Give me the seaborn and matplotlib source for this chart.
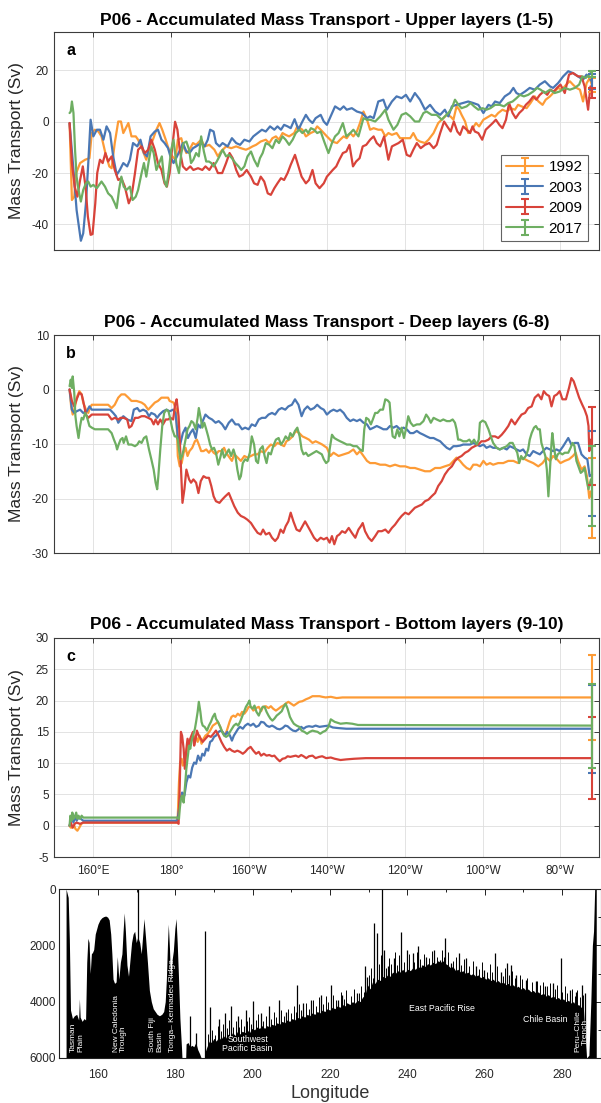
import numpy as np
import pandas as pd
import matplotlib
matplotlib.use("Agg")
import matplotlib.pyplot as plt
import seaborn as sns

sns.set_theme(style="white")
plt.rcParams["font.family"] = ["Liberation Sans", "DejaVu Sans"]

YEARS = ["1992", "2003", "2009", "2017"]
COLORS = {"1992": "#fd9b36", "2003": "#4a77b4", "2009": "#d8433a", "2017": "#6eae62"}
END_LON = 288.1

# ---------------- upper layers (1-5): (longitude, accumulated transport Sv)
UPPER_1992 = [(153.9,-0.5),(154.5,-30.5),(155.1,-29.2),(155.6,-20),(156.6,-16.1),(157.9,-14.8),(159.0,-14.2),(159.6,-4.4),(160.4,-3.1),(161.3,-3.8),
              (162.1,-5.7),(163.0,-11.6),(164.1,-17.4),(164.7,-18.1),(165.5,-8.3),(166.4,0.1),(167.1,0.1),(167.7,-4.4),(169.0,-0.5),(169.8,-5.7),
              (170.9,-5.7),(171.5,-7),(172.6,-10.9),(173.6,-14.8),(174.5,-9.6),(175.3,-7),(176.2,-3.1),(177.0,-0.5),(177.7,-3.1),(178.6,-7),
              (179.4,-10.9),(180.3,-13.5),(181.1,-14.8),(181.7,-7),(182.6,-6.4),(183.0,-9),(183.9,-12.2),(184.7,-10.9),(185.6,-8.3),(186.4,-9),
              (187.7,-7),(188.6,-9.6),(189.8,-9),(191.1,-10.9),(192.0,-13.5),(192.8,-11.6),(194.1,-9.6),(195.4,-10.3),(196.7,-9.6),(197.9,-10.3),
              (199.2,-10.9),(200.1,-10.3),(200.9,-9.6),(201.8,-9),(203.0,-7.7),(204.3,-7),(205.2,-8.3),(206.0,-6.4),(206.9,-5.7),(207.7,-7),
              (208.6,-4.4),(209.4,-5.1),(210.3,-5.7),(211.6,-4.4),(212.4,-1.8),(213.7,-3.1),(214.6,-5.7),(215.8,-4.4),(216.7,-3.8),(217.5,-1.8),
              (218.4,-3.1),(219.2,-4.4),(220.0,-5.7),(221.3,-7.7),(222.6,-8.3),(223.4,-7),(224.3,-5.7),(225.1,-6.4),(226.0,-4.4),(226.8,-5.7),
              (227.7,-3.8),(228.5,-0.5),(229.4,4),(230.3,0.8),(231.1,-3.1),(232.0,-2.5),(233.2,-3.1),(234.1,-3.1),(235.0,-5.7),(235.8,-4.4),
              (236.7,-5.1),(237.9,-4.4),(238.8,-6.4),(240.1,-6.4),(241.4,-6.4),(242.2,-4.4),(243.1,-7),(243.9,-7.7),(245.2,-8.3),(246.1,-7),
              (247.4,-4.4),(248.6,-0.5),(249.9,1.4),(250.8,2.7),(251.8,2),(252.5,0.8),(253.3,6),(254.0,4.7),(254.6,2.7),(255.5,0.1),
              (256.3,-4.4),(257.2,-3.1),(258.3,-0.5),(259.1,-1.8),(260.2,0.8),(261.5,2),(262.3,2.7),(263.2,2),(264.0,3.4),(265.1,4.7),
              (266.2,4),(267.2,5.3),(268.3,4.7),(269.1,6.6),(270.0,6),(271.3,5.3),(272.3,7.3),(273.4,9.9),(274.3,8),(275.4,6.6),
              (276.2,8.6),(277.3,9.9),(278.5,11.8),(279.4,13.2),(280.3,12.5),(281.5,14.5),(282.4,15.8),(283.2,14.5),(284.1,13.2),(285.0,12.5),
              (285.8,7.9),(286.7,15),(287.5,17),(288.1,14.2)]
UPPER_2003 = [(153.9,-0.5),(154.9,-18.8),(155.7,-34.4),(156.8,-46.4),(157.4,-43.5),(158.1,-31.8),(158.7,-16.1),(159.3,0.8),(160.0,-5.7),(160.9,-3.1),
              (161.7,-3.1),(162.6,-7),(163.4,-1.8),(164.3,-4.4),(165.1,-13.5),(166.0,-20.7),(166.8,-18.8),(167.7,-16.1),(168.7,-17.4),(169.4,-14.8),
              (170.2,-8.3),(171.3,-9.6),(172.1,-7),(173.0,-12.2),(173.8,-13.5),(174.7,-5.7),(175.8,-3.8),(176.6,-3.1),(177.5,-7),(178.3,-8.3),
              (179.2,-10.3),(179.8,-13.5),(180.6,-16.1),(181.5,-13.5),(182.3,-10.9),(183.0,-8.3),(183.9,-11.6),(184.7,-12.2),(185.6,-10.3),(186.4,-9.6),
              (187.7,-8.3),(188.6,-9.6),(189.4,-7),(190.0,-3.1),(190.9,-3.8),(191.5,-8.3),(192.4,-9.6),(193.2,-8.3),(194.5,-9.6),(195.6,-6.4),
              (196.7,-8.3),(197.7,-9),(198.8,-7),(200.1,-7.7),(201.1,-5.7),(202.2,-4.4),(203.3,-3.1),(204.3,-3.8),(205.4,-1.8),(206.5,-3.1),
              (207.3,-1.8),(208.2,-3.1),(209.0,-1.2),(209.9,-1.8),(210.7,-2.5),(211.7,1),(212.7,-3.1),(213.5,-0.5),(214.6,2.7),(215.4,0.8),
              (216.3,-0.5),(217.1,1.4),(218.4,2.7),(219.2,0.1),(220.0,-1.2),(222.1,6),(223.4,4.7),(224.3,6),(225.1,4.7),(226.4,5.3),
              (227.7,4),(229.0,3.4),(230.3,1.4),(231.1,2.1),(232.0,1.4),(233.2,7.9),(234.5,8.6),(235.4,4.7),(236.7,7.9),(237.9,9.9),
              (239.2,9.2),(240.3,10.5),(241.4,7.9),(242.6,11.2),(243.9,8.6),(245.2,4.7),(246.5,6.6),(247.8,4),(249.1,2.7),(250.3,4.7),
              (251.2,2.1),(252.1,6),(253.3,6.6),(256.3,7.9),(257.6,7.3),(258.9,6.6),(260.2,3.4),(261.5,6.6),(262.3,6),(263.2,7.9),
              (264.4,7.3),(265.7,9.9),(267.0,11.2),(267.9,13.2),(268.7,11.2),(269.6,10.5),(270.9,11.8),(272.1,13.2),(273.4,12.5),(274.7,14.5),
              (276.0,15.8),(277.3,13.8),(278.1,13.2),(279.4,15.1),(280.7,17.7),(282.0,19.7),(283.2,19),(284.5,17.7),(285.8,16.4),(286.7,18.4),
              (287.5,17.1),(288.1,15.6)]
UPPER_2009 = [(153.9,-0.5),(154.5,-16.1),(155.2,-25.3),(155.9,-29.2),(156.6,-22.7),(157.3,-17.4),(158.0,-25.3),(158.6,-37),(159.3,-44.1),(159.8,-43.8),
              (160.5,-31.8),(161.0,-20),(161.7,-14.8),(162.4,-16.1),(163.1,-12.2),(163.8,-15.5),(164.7,-13.5),(165.5,-18.8),(166.4,-22.7),(167.2,-22),
              (168.1,-25.3),(169.1,-31.8),(169.8,-29.2),(170.7,-20),(171.5,-10.9),(172.4,-9.6),(173.2,-12.2),(174.1,-10.9),(174.9,-7),(175.8,-10.9),
              (176.6,-16.1),(177.5,-18.8),(178.3,-24),(178.9,-25.3),(179.6,-20),(180.3,-9.6),(181.0,0),(181.6,-3.1),(182.2,-10.9),(183.0,-17.4),
              (183.9,-18.8),(184.9,-17.4),(185.7,-18.8),(186.9,-18.1),(188.0,-18.8),(188.8,-17.4),(189.8,-18.8),(190.9,-16.1),(192.0,-20),(193.1,-20),
              (194.1,-16.1),(195.0,-12.2),(195.8,-14.2),(196.7,-18.8),(197.5,-21.4),(198.4,-20.7),(199.4,-18.8),(200.5,-21.4),(201.3,-24),(202.2,-24.6),
              (203.0,-21.4),(203.9,-23.3),(204.8,-27.9),(205.6,-28.5),(206.5,-25.9),(207.3,-24),(208.2,-22),(209.0,-22.7),(209.9,-20),(210.7,-16.8),
              (211.8,-12.9),(212.7,-17.4),(213.5,-21.4),(214.6,-24),(215.4,-22.7),(216.3,-18.8),(217.1,-24),(218.1,-25.9),(219.2,-24),(220.0,-21.4),
              (221.5,-18.8),(222.4,-17.4),(223.2,-14.8),(224.1,-12.2),(225.0,-11.6),(225.8,-9),(226.7,-17.4),(227.5,-15.5),(228.4,-14.2),(229.2,-9.6),
              (230.1,-9),(231.1,-7),(232.0,-5.7),(232.8,-8.3),(233.7,-9.6),(234.7,-5.7),(235.8,-14.8),(236.7,-9.6),(237.5,-9),(238.4,-8.3),
              (239.5,-7),(240.5,-12.9),(241.4,-13.5),(242.2,-10.9),(243.1,-8.3),(244.1,-10.3),(245.2,-9),(246.3,-8.3),(247.4,-10.3),(248.2,-9),
              (249.1,-4.4),(250.1,0.1),(250.9,-1.8),(251.8,-3.8),(252.6,0.1),(253.5,-3.8),(254.2,-5.1),(255.0,-1.8),(255.9,-3.1),(256.8,-4.4),
              (257.4,-1.8),(258.0,-3.8),(258.9,-4.4),(259.9,-7),(260.8,-3.1),(261.7,-1.8),(262.6,-0.5),(263.4,0.8),(264.3,-1.2),(265.1,-2.5),
              (266.0,0.8),(266.8,7.3),(267.7,3.4),(268.5,1.4),(269.4,3.4),(270.3,4.7),(271.1,6.6),(272.0,7.9),(273.0,9.9),(273.8,8.6),
              (274.7,10.5),(275.7,11.8),(276.6,10.5),(277.4,12.5),(278.3,11.8),(279.1,13.2),(280.0,14.5),(281.1,11.2),(282.2,18.4),(283.2,19),
              (284.5,17.7),(285.4,17.7),(286.2,13.8),(287.1,4.7),(287.7,13.8),(288.1,11.2)]
UPPER_2017 = [(153.9,3.4),(154.2,4),(154.5,7.9),(154.9,3.4),(155.3,-10.9),(155.7,-21.4),(156.2,-26.6),(156.8,-31.1),(157.4,-26.6),(158.1,-24),
              (158.7,-23.3),(159.3,-25.3),(160.0,-24.6),(160.9,-25.9),(161.5,-24.6),(162.1,-23.3),(163.0,-25.3),(163.8,-27.9),(164.7,-29.2),(165.5,-31.8),
              (166.0,-33.7),(166.6,-26.6),(167.2,-21.4),(167.8,-25.3),(168.5,-26.6),(169.4,-25.3),(170.1,-30.5),(170.9,-29.2),(171.5,-26.6),(172.4,-20),
              (173.0,-16.1),(173.6,-21.4),(174.3,-14.8),(174.9,-9.6),(175.5,-12.2),(176.2,-18.8),(176.9,-16.1),(177.6,-13.5),(178.2,-22.7),(178.8,-25.3),
              (179.4,-18.8),(180.0,-10.9),(180.6,-7),(181.3,-16.1),(182.0,-20),(182.6,-12.2),(183.2,-8.3),(183.9,-7.7),(184.6,-10.9),(185.1,-16.1),
              (185.7,-14.8),(186.4,-12.2),(187.1,-13.5),(187.7,-5.7),(188.4,-11.6),(189.0,-15.5),(189.7,-15.5),(190.3,-16.1),(190.9,-17.4),(191.7,-15.5),
              (192.4,-13.5),(193.2,-10.9),(194.1,-13.5),(194.8,-12.9),(195.6,-14.2),(196.5,-16.1),(197.3,-17.4),(198.0,-18.8),(198.8,-17.4),(199.6,-13.5),
              (200.5,-11.6),(201.3,-14.8),(202.2,-17.4),(202.8,-14.2),(203.5,-12.2),(204.3,-8.3),(205.2,-9),(206.0,-10.3),(206.9,-7),(207.7,-8.3),
              (208.6,-5.7),(209.4,-7),(210.3,-9),(211.2,-7),(212.0,-4.4),(212.9,-3.1),(213.7,-4.4),(214.6,-3.1),(215.2,-4.4),(215.9,-2.5),
              (216.7,-3.1),(217.5,-4.4),(218.4,-3.8),(219.3,-7.7),(220.4,-12.2),(221.3,-8.3),(222.1,-5.7),(223.0,-4.4),(224.1,-0.5),(225.0,-5.7),
              (226.0,-4.4),(226.8,-3.1),(228.1,-5.7),(229.4,1.4),(230.3,0.8),(231.1,0.8),(232.4,0.1),(233.7,2.1),(235.0,4.7),(235.8,0.8),
              (237.1,-3.1),(238.1,-1.2),(239.2,2.7),(240.3,3.4),(241.4,2.1),(242.6,0.1),(243.7,0.1),(244.8,3.4),(245.6,4),(246.9,2.7),
              (248.2,2.7),(249.5,0.8),(250.3,2.1),(251.2,3.4),(252.1,5.3),(252.9,8.6),(253.8,6.6),(254.6,5.3),(255.9,6),(256.9,7.3),
              (257.8,6),(258.9,4.7),(260.0,5.3),(261.0,4.7),(262.0,5.3),(263.2,6.6),(264.4,6.6),(265.5,6),(266.6,7.3),(267.7,7.9),
              (268.7,9.2),(269.6,10.5),(270.6,9.9),(271.7,10.5),(273.0,11.8),(274.0,13.2),(274.9,12.5),(276.0,11.2),(277.3,12.5),(278.5,11.2),
              (279.8,11.8),(281.1,13.2),(282.4,12.5),(283.7,13.2),(284.8,14.5),(285.6,17.7),(286.5,17.1),(287.4,18.4),(288.1,19.7)]

# ---------------- deep layers (6-8)
DEEP_1992 = [(153.9,0),(154.3,-3.1),(154.7,-4.6),(155.3,-3.1),(155.9,-1.2),(156.4,-0.3),(157.0,-0.9),(157.4,-2.4),(158.1,-3.7),(158.7,-4.3),
             (159.1,-3.4),(159.6,-2.8),(163.8,-2.8),(164.7,-3.4),(165.5,-2.8),(166.4,-1.5),(167.2,-0.9),(168.1,-0.9),(169.0,-1.5),(169.8,-2.1),
             (171.1,-2.1),(172.4,-2.4),(173.2,-2.8),(174.1,-3.7),(174.9,-3.1),(175.8,-2.4),(176.6,-2.1),(177.5,-1.5),(179.2,-1.5),(179.6,-2.1),
             (180.6,-2.4),(181.3,-3.7),(181.7,-12.2),(182.2,-14.1),(182.7,-13.5),(183.2,-11.6),(183.7,-10.7),(184.2,-12.2),(184.7,-11.3),(185.4,-10.7),
             (186.1,-9.5),(186.6,-9.2),(187.1,-10.1),(187.7,-11.3),(188.3,-11.3),(189.0,-11),(189.7,-11.6),(190.3,-11),(190.9,-11.6),(191.5,-11.9),
             (192.2,-11.3),(192.9,-11.3),(193.6,-10.7),(194.1,-11.6),(195.0,-12.5),(195.6,-13.1),(196.2,-11.9),(197.1,-12.5),(197.9,-13.1),(198.8,-12.2),
             (199.6,-12.5),(200.5,-12.2),(201.3,-11.9),(202.2,-11.9),(203.0,-11.3),(203.9,-11.6),(204.8,-10.7),(205.6,-10.1),(206.5,-10.4),(207.3,-9.8),
             (208.2,-10.1),(209.0,-10.4),(209.6,-9.5),(210.3,-9.2),(211.2,-8.6),(212.0,-7.6),(212.9,-8),(213.7,-8.6),(214.6,-8.9),(215.4,-9.2),
             (216.3,-9.8),(217.1,-9.5),(218.0,-9.8),(218.8,-10.1),(220.0,-10.7),(220.9,-12.2),(221.7,-11.6),(223.0,-12.2),(224.3,-11.9),(225.6,-11.6),
             (226.8,-11),(227.7,-11.9),(228.5,-11.3),(229.4,-12.2),(230.3,-13.1),(231.1,-13.5),(232.4,-13.5),(233.7,-13.8),(235.0,-13.8),(236.2,-14.1),
             (237.5,-13.8),(238.8,-14.1),(240.1,-14.1),(241.4,-14.4),(242.6,-14.4),(243.9,-14.7),(245.2,-15),(246.5,-15),(247.8,-14.4),(249.1,-14.4),
             (250.3,-14.1),(251.6,-13.8),(252.5,-13.1),(253.3,-12.5),(254.2,-13.1),(255.0,-13.8),(255.9,-14.4),(256.8,-14.7),(257.6,-13.8),(258.5,-13.8),
             (259.3,-14.1),(260.2,-13.1),(261.0,-13.8),(261.9,-13.5),(262.7,-13.8),(264.0,-13.5),(265.3,-13.5),(266.6,-13.1),(267.9,-13.1),(269.1,-13.5),
             (270.0,-12.5),(270.9,-12.8),(271.7,-13.1),(273.0,-13.5),(274.3,-14.1),(275.4,-13.5),(276.4,-12.5),(277.3,-13.1),(278.1,-12.2),(279.1,-12.8),
             (280.0,-13.5),(281.1,-13.1),(282.2,-12.8),(283.2,-12.2),(283.9,-11.6),(284.5,-13.1),(285.4,-14.7),(286.2,-14.1),(286.8,-15.9),(287.4,-19.9),
             (287.8,-18.7),(288.1,-19.9)]
DEEP_2003 = [(153.9,0),(154.5,-3.7),(155.1,-4.3),(155.7,-4),(156.6,-3.7),(157.4,-4.3),(158.3,-4),(159.0,-3.1),(159.6,-3.7),(164.3,-3.7),
             (165.1,-4.3),(165.8,-4.9),(166.4,-6.1),(167.0,-5.5),(167.7,-4.9),(168.7,-5.5),(169.8,-5.8),(170.4,-3.7),(171.3,-3.4),(171.9,-4),
             (172.8,-3.7),(173.6,-4),(174.3,-4.9),(174.9,-4.3),(175.8,-4.6),(176.4,-5.2),(177.0,-4.6),(177.9,-4),(178.8,-3.7),(179.6,-4),
             (180.5,-3.7),(181.1,-4.3),(181.7,-8.6),(182.3,-10.1),(183.0,-8),(183.7,-7),(184.3,-8.9),(184.9,-8),(185.6,-7.3),(186.3,-8.9),
             (186.9,-6.4),(187.5,-7),(188.1,-5.8),(188.8,-4.6),(189.7,-5.2),(190.5,-5.5),(191.4,-6.1),(192.2,-5.8),(193.1,-6.4),(193.9,-7.3),
             (194.8,-6.1),(195.6,-5.5),(196.5,-6.4),(197.3,-6.4),(198.2,-7.3),(199.0,-7),(199.9,-7.3),(200.7,-6.4),(201.6,-6.7),(202.5,-5.5),
             (203.3,-5.2),(204.2,-5.2),(205.0,-4.6),(205.9,-4.3),(206.7,-4.6),(207.6,-3.7),(208.4,-3.4),(209.3,-3.7),(210.1,-3.1),(211.0,-2.8),
             (211.8,-1.8),(212.7,-2.8),(213.5,-4.9),(214.2,-3.7),(215.0,-3.1),(215.8,-3.7),(216.7,-3.4),(217.5,-2.8),(218.4,-3.4),(219.2,-3.7),
             (220.0,-4.6),(220.9,-4),(221.7,-3.7),(222.6,-4),(223.4,-3.7),(224.3,-4.3),(225.1,-5.2),(226.0,-5.8),(226.8,-5.5),(227.7,-5.8),
             (228.5,-5.5),(229.4,-6.1),(230.3,-6.4),(231.1,-7.3),(232.0,-7),(232.8,-6.7),(233.7,-7),(234.5,-7.3),(235.4,-7.3),(236.2,-6.7),
             (237.1,-7),(237.9,-6.7),(238.8,-7.3),(239.7,-7),(240.5,-7.3),(241.4,-8),(242.2,-8),(243.1,-7.6),(243.9,-8),(244.8,-8.3),
             (245.6,-8.6),(246.5,-8.9),(247.4,-8.9),(248.2,-9.2),(249.1,-9.5),(249.9,-10.1),(250.8,-10.7),(251.6,-11),(252.5,-10.4),(253.3,-10.4),
             (254.2,-10.3),(255.0,-10.1),(255.9,-10.1),(256.8,-10.1),(257.6,-9.8),(258.5,-10.1),(259.3,-10.4),(260.2,-10.1),(261.0,-10.7),(261.9,-10.4),
             (262.7,-10.7),(263.6,-10.7),(264.4,-11),(265.3,-10.7),(266.2,-11),(267.0,-10.4),(267.9,-10.7),(268.7,-11),(269.6,-11.3),(270.4,-11),
             (271.3,-11.9),(272.1,-12.2),(273.0,-11.3),(273.8,-11.6),(274.7,-11.9),(275.5,-11.3),(276.4,-10.7),(277.3,-11),(278.1,-11.3),(279.0,-11),
             (279.8,-11.3),(280.7,-10.4),(282.0,-8.9),(282.8,-10.1),(283.7,-9.8),(284.5,-9.8),(285.4,-11.9),(286.2,-12.5),(286.9,-12.8),(287.5,-15.9),
             (288.1,-15.6)]
DEEP_2009 = [(153.9,0),(154.5,-2.1),(155.1,-3.1),(155.7,-1.8),(156.4,-0.6),(157.0,-0.9),(157.4,-2.1),(158.1,-4.6),(158.7,-5.2),(159.6,-4.6),
             (163.8,-4.6),(164.7,-5.5),(165.5,-5.2),(166.4,-5.5),(167.0,-5.2),(167.8,-5.2),(168.7,-5.5),(169.2,-7),(169.8,-6.7),(170.7,-5.2),
             (171.5,-5.2),(172.4,-4.9),(173.2,-4.9),(174.1,-5.2),(174.9,-5.5),(175.5,-6.4),(176.0,-5.5),(176.6,-6.4),(177.2,-5.5),(177.9,-6.4),
             (178.6,-5.5),(179.2,-5.5),(179.8,-5.2),(180.5,-5.5),(181.0,-2.8),(181.4,-1.8),(181.9,-4.9),(182.2,-9.2),(182.6,-15.9),(182.9,-20.8),
             (183.4,-18.3),(183.9,-14.7),(184.6,-16.5),(185.1,-17.1),(185.7,-16.5),(186.4,-17.1),(187.0,-19),(187.6,-16.8),(188.3,-15.9),(189.0,-16.2),
             (189.7,-16.2),(190.3,-17.7),(190.9,-19.6),(191.5,-20.5),(192.4,-20.8),(193.1,-20.2),(193.9,-19.6),(194.8,-19),(195.5,-20.2),(196.2,-21.4),
             (197.1,-22.6),(197.9,-23.2),(198.8,-23.5),(199.6,-23.9),(200.5,-24.5),(201.3,-25.4),(202.2,-26.3),(203.0,-26.6),(203.6,-25.7),(204.3,-26.6),
             (205.2,-26.3),(205.9,-27.2),(206.7,-27.8),(207.4,-27.2),(208.1,-25.7),(208.8,-26.3),(209.4,-25.1),(210.1,-24.2),(210.7,-22.6),(211.4,-24.2),
             (212.2,-25.7),(213.0,-26),(213.7,-25.1),(214.4,-24.2),(215.1,-25.1),(215.8,-26),(216.7,-27.2),(217.5,-27.8),(218.4,-27.2),(219.2,-27.5),
             (220.0,-27.2),(220.7,-28.1),(221.3,-26.9),(221.9,-28.4),(222.6,-26.9),(223.2,-26.6),(223.9,-26),(224.7,-26.3),(225.6,-25.4),(226.4,-26.3),
             (227.3,-27.2),(228.1,-25.7),(228.7,-25.1),(229.2,-24.5),(229.8,-26),(230.7,-27.2),(231.5,-27.8),(232.4,-26.9),(233.2,-26),(234.1,-26),
             (235.0,-25.7),(235.8,-26.3),(236.7,-25.4),(237.5,-24.8),(238.4,-23.9),(239.2,-23.2),(240.1,-22.6),(241.0,-22.9),(241.8,-22.3),(242.6,-21.7),
             (243.5,-21.4),(244.4,-21.1),(245.2,-20.5),(246.1,-20.2),(246.9,-19.6),(247.8,-19),(248.6,-17.7),(249.5,-16.8),(250.3,-15.6),(251.2,-14.7),
             (252.1,-14.1),(252.9,-13.1),(253.8,-12.5),(254.6,-12.2),(255.5,-11.6),(256.3,-11.3),(257.2,-10.7),(258.0,-10.4),(258.9,-10.1),(259.7,-9.5),
             (260.6,-9.5),(261.5,-9.2),(262.3,-8.6),(263.2,-8.6),(264.0,-8.9),(264.9,-8.3),(265.7,-7.6),(266.6,-6.7),(267.4,-5.5),(268.3,-6.4),
             (269.1,-5.5),(270.0,-4.6),(270.9,-4.3),(271.7,-3.4),(272.6,-3.1),(273.4,-1.5),(274.3,-0.9),(275.1,-1.8),(275.7,-0.3),(276.4,-0.9),
             (277.1,-1.2),(277.7,-3.1),(278.4,-1.2),(279.1,-0.9),(279.8,-0.3),(280.5,-1.8),(281.4,-1.8),(282.2,0.3),(282.8,2.1),(283.4,1.5),
             (284.1,0),(284.8,-1.5),(285.6,-2.8),(286.2,-3.7),(286.8,-4.9),(287.2,-6.7),(287.4,-11.3),(287.8,-9.2),(288.1,-10.4)]
DEEP_2017 = [(153.9,0.6),(154.2,1.8),(154.5,0.3),(154.7,2.4),(155.1,-0.6),(155.4,-4.9),(155.7,-6.7),(156.2,-8.9),(156.6,-6.7),(157.0,-5.2),
             (157.4,-5.5),(157.9,-4.3),(158.3,-4.9),(159.0,-6.7),(159.6,-7),(160.4,-7.3),(163.8,-7.3),(164.7,-8),(165.3,-9.2),(165.8,-10.1),
             (166.1,-11),(166.5,-10.1),(167.0,-9.2),(167.5,-8.9),(167.8,-9.8),(168.4,-8.6),(169.0,-10.1),(169.8,-10.1),(170.7,-10.4),(171.3,-10.1),
             (171.8,-9.5),(172.4,-9.8),(173.0,-8.9),(173.6,-8.6),(174.3,-11),(174.9,-12.8),(175.5,-14.7),(176.0,-17.1),(176.4,-18.3),(176.7,-15.9),
             (177.2,-11),(177.7,-6.7),(178.2,-4.3),(178.8,-3.7),(179.3,-4),(179.8,-5.5),(180.3,-7.3),(180.9,-8.6),(181.3,-8.6),(181.7,-9.2),
             (182.0,-11),(182.4,-12.8),(182.8,-12.2),(183.2,-11),(183.7,-9.2),(184.2,-7.3),(184.7,-6.7),(185.2,-5.8),(185.7,-6.1),(186.3,-7.3),
             (186.8,-5.2),(187.1,-3.4),(187.5,-4.9),(188.0,-7),(188.5,-6.1),(189.0,-7.3),(189.5,-8.6),(190.0,-10.1),(190.5,-11),(191.0,-10.7),
             (191.5,-11.6),(192.1,-13.8),(192.6,-12.5),(193.1,-11),(193.6,-12.5),(194.1,-11.9),(194.8,-11),(195.4,-12.2),(196.0,-11),(196.5,-12.2),
             (197.0,-14.7),(197.5,-16.5),(197.9,-15.9),(198.4,-13.5),(199.0,-12.8),(199.6,-13.1),(200.2,-11.6),(200.7,-8.6),(201.3,-10.1),(201.8,-13.1),
             (202.3,-13.5),(202.8,-11),(203.5,-10.4),(204.0,-12.2),(204.5,-13.5),(205.0,-11.6),(205.6,-11.9),(206.2,-10.4),(206.9,-9.2),(207.6,-8.9),
             (208.2,-10.1),(208.8,-9.5),(209.4,-8.6),(210.1,-9.2),(210.6,-8),(211.2,-8.6),(211.8,-7.6),(212.4,-7),(213.0,-8.6),(213.5,-11),
             (214.0,-11.9),(214.6,-11.6),(215.2,-12.2),(215.9,-11.9),(216.6,-11.6),(217.3,-11.3),(218.0,-11.6),(218.7,-11.9),(219.2,-12.8),(219.8,-13.5),
             (220.4,-13.1),(220.7,-11),(221.3,-8.3),(221.9,-8.9),(222.6,-9.2),(223.4,-9.5),(224.3,-9.8),(225.1,-10.1),(226.0,-10.1),(226.8,-10.4),
             (227.7,-10.4),(228.5,-11),(229.2,-11.3),(229.6,-7.3),(230.1,-5.2),(230.7,-5.5),(231.3,-6.4),(231.8,-5.5),(232.4,-4.3),(233.0,-4.3),
             (233.7,-3.7),(234.4,-3.7),(235.0,-1.8),(235.6,-2),(236.1,-2.4),(236.6,-6.7),(236.9,-8.6),(237.5,-8.9),(238.1,-7.3),(238.6,-8.6),
             (239.2,-7),(239.8,-8.9),(240.3,-7.3),(240.9,-4.9),(241.5,-6.1),(242.2,-6.7),(243.1,-6.4),(243.9,-6.4),(244.8,-5.8),(245.5,-4.6),
             (246.1,-5.2),(246.7,-6.1),(247.4,-5.2),(248.2,-5.5),(249.1,-5.8),(249.9,-5.5),(250.8,-5.8),(251.6,-5.8),(252.3,-5.5),(252.9,-6.1),
             (253.3,-7.3),(253.7,-9.2),(254.2,-9.2),(255.0,-9.5),(255.9,-9.5),(256.6,-9.2),(257.2,-9.8),(257.8,-9.2),(258.5,-10.1),(259.0,-9.2),
             (259.3,-6.1),(260.0,-5.7),(260.7,-6),(261.5,-7.3),(262.1,-8.6),(262.7,-9.8),(263.6,-10.7),(264.4,-11),(265.3,-10.7),(266.2,-10.4),
             (267.0,-9.8),(267.7,-9.8),(268.3,-10.7),(268.9,-11.6),(269.4,-13.5),(269.9,-12.2),(270.4,-12.8),(271.1,-12.2),(271.7,-11),(272.1,-9.2),
             (272.6,-8),(273.2,-7),(273.7,-6.7),(274.2,-7.3),(274.7,-7.3),(275.1,-9.8),(275.6,-11),(276.1,-12.2),(276.5,-14.7),(276.9,-19.6),
             (277.3,-14.7),(277.7,-9.8),(277.9,-8),(278.3,-10.4),(278.8,-12.8),(279.3,-11.9),(279.8,-11.6),(280.5,-11.9),(281.1,-11.6),(282.0,-11.6),
             (282.6,-10.7),(283.1,-9.8),(283.6,-10.4),(284.1,-13.1),(284.6,-14.1),(285.2,-15.3),(285.7,-15),(286.2,-14.4),(286.7,-16.5),(287.2,-18.3),
             (287.8,-16.5),(288.1,-17.7)]

# ---------------- bottom layers (9-10)
BOTTOM_1992 = [(153.9,0),(154.2,-0.3),(154.7,-0.3),(155.1,0),(155.4,-0.5),(155.9,-0.8),(156.4,-0.3),(156.9,0.3),(157.4,0.5),(181.3,0.5),
               (181.7,1.6),(182.0,6.9),(182.3,10.1),(182.7,10.7),(183.0,9.6),(183.4,10.1),(183.7,10.7),(184.2,12.8),(184.7,13.4),(185.2,14.2),
               (185.7,13.9),(186.3,14.4),(186.8,13.4),(187.3,14.4),(187.8,13.1),(188.3,13.9),(188.8,14.4),(189.4,14.7),(190.0,15.2),(190.7,16),
               (191.4,16.3),(192.0,16.6),(192.6,15.8),(193.1,15),(193.7,14.4),(194.3,15.2),(195.0,16.6),(195.5,17.4),(196.0,17.6),(196.5,17.4),
               (197.1,17.9),(197.7,17.6),(198.2,18.2),(198.8,17.9),(199.4,18.4),(199.9,19),(200.5,19),(201.1,18.4),(201.8,18.8),(202.5,19),
               (203.1,18.3),(203.6,19),(204.3,19.1),(205.0,18.8),(205.6,19.1),(206.2,18.7),(206.9,18.4),(207.6,18.7),(208.2,19),(208.8,19.2),
               (209.4,19.5),(210.1,19.8),(210.8,19.5),(211.5,19.2),(212.2,19.5),(212.9,19.8),(213.7,19.9),(214.6,20.2),(215.4,20.4),(216.3,20.7),
               (217.1,20.7),(218.1,20.7),(218.8,20.6),(219.7,20.5),(221.0,20.6),(222.5,20.4),(224.0,20.5),(226.0,20.5),(288.1,20.5)]
BOTTOM_2003 = [(153.9,0),(154.2,0.8),(154.5,1.3),(154.9,0.5),(155.3,1.6),(155.7,0.8),(156.2,1.3),(156.8,1.1),(157.4,0.8),(181.6,0.8),
               (182.0,2.7),(182.4,4.3),(182.8,5.3),(183.4,4.8),(183.9,6.9),(184.4,8),(184.9,7.7),(185.4,9.3),(185.9,10.1),(186.4,9.9),
               (186.9,11.2),(187.5,10.4),(188.0,11.5),(188.5,11.2),(189.0,12.3),(189.5,12),(190.0,13.4),(190.5,13.6),(191.0,14.2),(191.5,14.4),
               (192.2,15),(192.7,15.2),(193.2,15),(193.8,14.4),(194.4,15),(195.1,14.4),(195.6,13.6),(196.1,14.4),(196.7,15),(197.2,15.5),
               (197.7,15.8),(198.4,15.5),(199.0,16),(199.7,16.3),(200.4,16),(201.1,16.3),(201.8,15.8),(202.5,16),(203.1,16.6),(203.8,16.5),
               (204.5,16),(205.2,15.8),(205.9,16),(206.5,15.8),(207.2,15.5),(207.9,15.4),(208.6,15.6),(209.3,16),(209.9,15.9),(210.6,15.5),
               (211.3,15.2),(212.0,15.1),(212.7,15.4),(213.4,15.8),(214.0,15.5),(214.7,15.8),(215.4,15.9),(216.3,15.8),(217.1,16),(218.1,15.8),
               (219.2,15.9),(220.4,16),(221.5,15.7),(223.0,15.6),(225.0,15.5),(288.1,15.5)]
BOTTOM_2009 = [(153.9,0),(154.2,0.5),(154.7,-0.3),(155.2,0.3),(155.7,0.5),(156.6,0.3),(157.4,0.5),(181.6,0.5),(181.9,0.3),(182.2,6.4),
               (182.5,15),(182.8,14.4),(183.2,12.3),(183.5,9.1),(183.9,12.3),(184.2,13.9),(184.6,12.8),(184.9,13.9),(185.2,14.4),(185.6,15),
               (185.9,12.8),(186.3,13.9),(186.6,15.2),(187.1,14.4),(187.6,13.9),(188.1,13.4),(188.8,13.9),(189.5,14.4),(190.2,14.2),(190.9,14.7),
               (191.5,15.2),(192.2,14.4),(192.9,13.4),(193.6,12.6),(194.3,12),(195.0,12.3),(195.6,12),(196.3,11.8),(197.0,12),(197.7,11.8),
               (198.4,11.5),(199.0,11.8),(199.7,12.3),(200.4,12.6),(201.1,12),(201.8,11.5),(202.5,11.8),(203.1,11.2),(203.8,11.5),(204.5,11.2),
               (205.2,11.3),(205.9,11.1),(206.5,11.2),(207.2,10.7),(207.9,10.3),(208.6,10.7),(209.3,10.8),(209.9,11.1),(210.6,11),(211.3,11.1),
               (212.0,11.2),(212.7,11),(213.4,11.3),(214.0,11.1),(214.7,10.8),(215.4,11.1),(216.3,11.2),(217.1,10.8),(218.0,11),(218.8,11.1),
               (219.8,10.8),(221.0,10.9),(222.0,10.7),(223.5,10.5),(225.0,10.6),(227.0,10.7),(230.0,10.8),(288.1,10.8)]
BOTTOM_2017 = [(153.9,0),(154.1,1.6),(154.4,0.8),(154.6,2.1),(154.9,1.1),(155.2,1.3),(155.6,2.1),(155.9,1.1),(156.2,1.6),(156.6,1.1),
               (157.0,1.6),(157.4,1.3),(181.6,1.3),(182.0,1.1),(182.2,2.7),(182.5,4.3),(182.8,4.8),(183.2,3.7),(183.5,5.9),(183.9,9.1),
               (184.2,10.7),(184.6,12.8),(184.9,12.3),(185.2,13.4),(185.6,14.4),(186.1,15.5),(186.4,16.6),(186.8,18.2),(187.1,19.8),(187.5,18.2),
               (187.8,16.6),(188.1,16),(188.6,15.8),(189.2,15.2),(189.7,16),(190.2,16.6),(190.7,17.4),(191.2,17.9),(191.5,17.1),(192.0,16.6),
               (192.6,15.8),(193.1,15),(193.6,14.4),(194.1,14.2),(194.6,14.4),(195.1,15),(195.6,15.5),(196.1,16),(196.7,16.3),(197.2,16),
               (197.7,16.6),(198.2,17.4),(198.7,18.2),(199.2,19),(199.7,19.5),(200.1,20),(200.4,19),(200.9,18.7),(201.4,19.2),(201.9,18.2),
               (202.5,17.6),(203.0,18.4),(203.5,19),(204.0,19),(204.5,18.2),(205.0,17.6),(205.5,17.1),(206.0,16.8),(206.5,17.1),(207.1,17.6),
               (207.7,17.9),(208.4,18.3),(208.9,19),(209.4,19.5),(209.9,18.7),(210.5,17.4),(211.0,16.8),(211.5,16.3),(212.2,16),(212.9,15.8),
               (213.5,15.2),(214.2,15),(214.9,14.7),(215.6,15),(216.3,15.2),(216.9,15.1),(217.6,15),(218.3,14.7),(219.0,15),(219.7,15.2),
               (220.4,15.8),(221.0,17),(222.0,16.6),(223.5,16.3),(225.0,16.4),(226.5,16.3),(228.0,16.1),(288.1,16)]

# error estimates at the eastern end: (centre, half-width)
ERR_UPPER = {"1992": (14.2, 2.7), "2003": (15.6, 3.0), "2009": (11.2, 2.0), "2017": (18.6, 1.2)}
ERR_DEEP = {"1992": (-19.9, 7.4), "2003": (-15.5, 7.8), "2009": (-10.4, 7.2), "2017": (-17.7, 7.4)}
ERR_BOTTOM = {"1992": (20.5, 6.75), "2003": (15.5, 7.0), "2009": (10.8, 6.5), "2017": (16.0, 6.7)}

# ---------------- bathymetry along the section (longitude, depth m)
BATHY = [(151.75,0),(152.3,300),(152.6,1800),(152.9,4300),(153.4,4600),(153.9,4500),(154.5,4450),(155.0,4650),(155.2,3900),(155.4,4550),
         (155.9,4700),(156.4,4600),(156.8,4650),(157.1,2600),(157.4,1750),(157.7,1900),(158.0,3000),(158.3,2300),(158.6,2250),(158.9,2150),
         (159.3,1600),(159.7,1400),(160.0,1250),(160.5,1100),(161.0,1020),(161.5,980),(162.0,960),(162.5,1000),(162.9,1100),(163.3,1600),
         (163.6,2300),(163.9,3200),(164.3,3350),(164.7,3300),(165.0,2400),(165.4,3200),(165.8,2600),(166.2,2300),(166.5,1500),(166.8,850),
         (167.1,1500),(167.5,2700),(167.9,3100),(168.3,2500),(168.7,1900),(169.1,1600),(169.5,1500),(169.9,1900),(170.3,1700),(170.8,1900),
         (171.2,2300),(171.6,1600),(171.9,1050),(172.3,1700),(172.8,2600),(173.3,3600),(173.8,4000),(174.3,4250),(174.8,4350),(175.3,4450),
         (175.9,4500),(176.5,4450),(177.0,4350),(177.4,4000),(177.7,3200),(178.0,1900),(178.2,1250),(178.5,2100),(178.8,3300),(179.1,2600),
         (179.5,2200),(179.9,1400),(180.2,1050),(180.5,1900),(180.8,3000),(181.2,4600),(181.6,5600),(181.9,6500),(182.6,6500),(182.8,5500),
         (183.3,5450),(183.8,5600),(184.3,5550),(184.8,5600),(185.3,5450),(185.8,5700),(186.3,5850),(186.7,6000),(187.0,6500),(187.5,6500),
         (187.7,5800),(188.2,5600),(188.8,5400),(189.4,5450),(190.0,5300),(190.6,5400),(191.2,5250),(191.8,5350),(192.4,5200),(193.0,5300),
         (193.6,5150),(194.2,5250),(194.8,5100),(195.5,5200),(196.1,5050),(196.7,5150),(197.3,5050),(198.0,5100),(198.6,5000),(199.2,5100),
         (199.8,4950),(200.5,5000),(201.1,4900),(201.8,4950),(202.4,4850),(203.1,4950),(203.7,4850),(204.4,4900),(205.0,4800),(205.7,4850),
         (206.3,4750),(207.0,4800),(207.6,4700),(208.3,4750),(208.9,4650),(209.6,4700),(210.2,4600),(210.9,4650),(211.5,4550),(212.2,4600),
         (212.8,4500),(213.5,4550),(214.1,4450),(214.8,4500),(215.4,4400),(216.1,4450),(216.7,4350),(217.4,4400),(218.0,4300),(218.7,4350),
         (219.3,4250),(220.0,4300),(220.6,4200),(221.3,4250),(221.9,4150),(222.6,4200),(223.2,4100),(223.9,4150),(224.5,4050),(225.2,4100),
         (225.8,4000),(226.5,4050),(227.1,3950),(227.8,4000),(228.4,3850),(229.1,3750),(229.7,3400),(230.4,3550),(231.0,3300),(231.7,3350),
         (232.3,3200),(233.0,3250),(233.6,3100),(234.3,3150),(234.9,3050),(235.6,3100),(236.2,2950),(236.9,3000),(237.5,2900),(238.2,2950),
         (238.8,2850),(239.5,2950),(240.1,2850),(240.8,2900),(241.4,2800),(242.1,2850),(242.7,2750),(243.4,2800),(244.0,2700),(244.7,2750),
         (245.3,2650),(246.0,2700),(246.6,2600),(247.3,2650),(247.9,2550),(248.6,2600),(249.2,2550),(249.9,2650),(250.5,2700),(251.2,2800),
         (251.8,2750),(252.5,2900),(253.1,2850),(253.8,2950),(254.4,2900),(255.1,3000),(255.7,2950),(256.4,3050),(257.0,3000),(257.7,3100),
         (258.3,3050),(259.0,3150),(259.6,3100),(260.3,3200),(260.9,3150),(261.6,3250),(262.2,3200),(262.9,3300),(263.5,3250),(264.2,3350),
         (264.8,3300),(265.5,3400),(266.1,3350),(266.8,3450),(267.4,3400),(268.1,3500),(268.7,3450),(269.4,3550),(270.0,3500),(270.7,3600),
         (271.3,3550),(272.0,3650),(272.6,3600),(273.3,3700),(273.9,3650),(274.6,3750),(275.2,3700),(275.9,3800),(276.5,3750),(277.2,3850),
         (277.8,3800),(278.5,3900),(279.1,3850),(279.8,3950),(280.4,3900),(281.1,4000),(281.7,3950),(282.4,4050),(283.0,4000),(283.7,4150),
         (284.3,4100),(285.0,4200),(285.6,4300),(286.0,5200),(286.4,6000),(287.0,5900),(287.5,4000),(287.9,2000),(288.2,1500),(288.5,0),(288.9,0)]
# narrow seamounts rising above the smoothed floor: (longitude, summit depth m)
SEAMOUNTS = [(170.4,0),(183.8,4500),(185.3,5100),(187.6,1500),(189.0,4200),(191.3,4600),(192.8,4400),(194.3,4170),(196.2,4520),(198.2,4290),
             (200.2,3990),(202.2,4400),(204.2,4170),(206.9,3930),(208.7,4350),(211.6,3400),(213.1,4050),(215.1,3930),(217.6,3760),(220.3,3400),
             (222.1,3930),(223.1,3760),(224.5,4050),(227.0,3700),(229.0,2750),(229.5,3110),(231.5,1210),(232.2,1570),(233.5,0),(234.0,2160),
             (235.0,2750),(236.5,2460),(238.5,1510),(239.9,2160),(241.4,2280),(242.9,2040),(243.9,2690),(244.9,2400),(246.9,2160),(248.4,2510),
             (249.9,1750),(251.4,2630),(253.3,2280),(255.3,2460),(257.8,2750),(259.8,2870),(262.8,2280),(264.3,2930),(265.8,2630),(266.8,2690),
             (268.2,3050),(270.7,3220),(273.2,3280),(275.7,3460),(277.7,3340),(279.9,2460),(282.1,3580),(283.6,3640),(285.1,3400),(286.1,3700)]
# smaller abyssal hills along the eastern basins: (longitude, summit depth m)
HILLS = [(188.5,5150),(189.6,5000),(190.3,5200),(191.0,4850),(191.9,5050),(192.3,4800),(193.3,4950),(194.0,4650),(194.9,4900),(195.7,4700),
         (196.5,4900),(197.0,4600),(197.7,4850),(198.5,4700),(199.0,4550),(199.6,4800),(200.8,4650),(201.5,4450),(202.7,4700),(203.4,4500),
         (204.8,4600),(205.5,4350),(206.1,4550),(207.3,4300),(208.0,4500),(209.2,4250),(210.0,4400),(210.6,4150),(211.2,4350),(212.0,4100),
         (212.6,4300),(213.8,4050),(214.5,4250),(215.7,3950),(216.4,4150),(217.1,3850),(218.3,4100),(219.0,3800),(219.6,4000),(220.9,3750),
         (221.6,3950),(222.8,3650),(223.6,3900),(224.2,3600),(225.5,3800),(226.2,3550),(227.4,3700),(228.1,3450),(228.7,3650),(230.1,3050),
         (230.7,2800),(231.2,3150),(232.7,2650),(233.2,2350),(234.6,2800),(235.3,2450),(235.9,2650),(236.8,2250),(237.3,2700),(237.9,2350),
         (239.2,2600),(240.5,2300),(241.8,2600),(242.5,2250),(243.3,2500),(244.3,2300),(245.6,2450),(246.3,2200),(247.6,2400),(248.9,2150),
         (249.5,2400),(250.6,2250),(251.8,2550),(252.6,2400),(254.0,2700),(254.7,2500),(256.1,2750),(256.9,2550),(258.5,2850),(259.3,2600),
         (260.6,2950),(261.3,2650),(262.0,2950),(263.3,2750),(264.7,3100),(265.3,2800),(266.3,3050),(267.2,2900),(267.8,3150),(269.1,3050),
         (269.8,3200),(271.0,3150),(272.3,3300),(273.6,3250),(274.3,3400),(275.0,3300),(276.2,3450),(277.0,3350),(278.2,3550),(278.8,3400),
         (280.1,3650),(280.7,3450),(281.4,3700),(282.7,3550),(283.3,3800),(284.0,3600),(284.7,3850),(285.4,3750)]
FEATURES = [("Tasman\nPlain", 154.6, 5800, 90, "left"),
            ("New Caledonia\nTrough", 165.7, 5800, 90, "left"),
            ("South Fiji\nBasin", 175.0, 5800, 90, "left"),
            ("Tonga\u2013 Kermadec Ridge", 179.4, 5800, 90, "left"),
            ("Southwest\nPacific Basin", 198.7, 5500, 0, "center"),
            ("East Pacific Rise", 249.1, 4260, 0, "center"),
            ("Chile Basin", 275.6, 4620, 0, "center"),
            ("Peru\u2013Chile\nTrench", 285.1, 5800, 90, "center")]

LON_TICKS = [160, 180, 200, 220, 240, 260, 280]
LON_LABELS = ["160\u00b0E", "180\u00b0", "160\u00b0W", "140\u00b0W", "120\u00b0W", "100\u00b0W", "80\u00b0W"]

TITLES = ["P06 - Accumulated Mass Transport - Upper layers (1-5)",
          "P06 - Accumulated Mass Transport - Deep layers (6-8)",
          "P06 - Accumulated Mass Transport - Bottom layers (9-10)"]

W, H = 601, 1103
fig = plt.figure(figsize=(W / 100, H / 100), dpi=100)


def axes_px(left, top, right, bottom):
    return fig.add_axes([left / W, 1 - bottom / H, (right - left) / W, (bottom - top) / H])


FRAME = "#3c3c3c"
TXT = "#262626"


def long_frame(series):
    parts = []
    for yr in YEARS:
        pts = series[yr]
        parts.append(pd.DataFrame({"lon": [p[0] for p in pts], "sv": [p[1] for p in pts], "year": yr}))
    return pd.concat(parts, ignore_index=True)


def transport_panel(ax, series, errs, ylim, yticks, letter):
    df = long_frame(series)
    sns.lineplot(data=df, x="lon", y="sv", hue="year", hue_order=YEARS, palette=COLORS,
                 sort=False, estimator=None, linewidth=1.6, legend=False, ax=ax)
    handles = []
    for yr in YEARS:
        c, e = errs[yr]
        h = ax.errorbar([END_LON], [c], yerr=[e], fmt="-", color=COLORS[yr], lw=1.5,
                        elinewidth=1.5, capsize=2.6, capthick=1.5, label=yr, zorder=3)
        handles.append(h)
    ax.set_xlim(150, 290)
    ax.set_ylim(*ylim)
    ax.set_xticks(LON_TICKS)
    ax.set_yticks(yticks)
    ax.set_yticklabels([str(t) for t in yticks])
    ax.grid(True, color="#dedede", lw=0.6)
    ax.set_axisbelow(True)
    for s in ax.spines.values():
        s.set_visible(True)
        s.set_color(FRAME)
        s.set_linewidth(0.8)
    ax.tick_params(direction="in", length=3.5, width=0.7, color=FRAME, labelcolor=TXT,
                   labelsize=8.5, top=True, right=True, pad=4)
    ax.tick_params(axis="x", pad=5.5)
    ax.set_xlabel("")
    ax.set_ylabel("Mass Transport (Sv)", fontsize=12.5, color=TXT)
    ax.yaxis.set_label_coords(-0.056, 0.5)
    ax.text(0.031, 0.915, letter, transform=ax.transAxes, fontsize=11.5, fontweight="bold",
            color="black", ha="center", va="center")
    return handles


ax_a = axes_px(54.4, 32, 599.4, 250)
ax_b = axes_px(54.4, 335, 599.4, 553)
ax_c = axes_px(54.4, 638, 599.4, 857)

upper = {"1992": UPPER_1992, "2003": UPPER_2003, "2009": UPPER_2009, "2017": UPPER_2017}
deep = {"1992": DEEP_1992, "2003": DEEP_2003, "2009": DEEP_2009, "2017": DEEP_2017}
bottom = {"1992": BOTTOM_1992, "2003": BOTTOM_2003, "2009": BOTTOM_2009, "2017": BOTTOM_2017}

handles = transport_panel(ax_a, upper, ERR_UPPER, (-50, 35), [-40, -20, 0, 20], "a")
transport_panel(ax_b, deep, ERR_DEEP, (-30, 10), [-30, -20, -10, 0, 10], "b")
transport_panel(ax_c, bottom, ERR_BOTTOM, (-5, 30), [-5, 0, 5, 10, 15, 20, 25, 30], "c")
ax_a.tick_params(labelbottom=False)
ax_b.tick_params(labelbottom=False)
ax_c.set_xticklabels(LON_LABELS)

leg = ax_a.legend(handles, YEARS, loc="lower right", bbox_to_anchor=(0.9786, 0.041),
                  borderaxespad=0, fontsize=11, handlelength=2.4, handletextpad=0.35,
                  labelspacing=0.43, borderpad=0.35, frameon=True, fancybox=False)
leg.get_frame().set_edgecolor(FRAME)
leg.get_frame().set_linewidth(0.8)
for t in leg.get_texts():
    t.set_color("black")

for ttl, y in zip(TITLES, [20, 323, 625]):
    fig.text(326.9 / W, 1 - y / H, ttl, ha="center", va="center", fontsize=12.6,
             fontweight="bold", color="black")

# ---------------- bathymetry panel
ax_d = axes_px(59.3, 889, 600.5, 1058)
b_lon = np.array([p[0] for p in BATHY])
b_dep = np.array([p[1] for p in BATHY])
ax_d.fill_between(b_lon, b_dep, 6500, color="black", lw=0)
ax_d.vlines([p[0] for p in SEAMOUNTS], [p[1] for p in SEAMOUNTS], 6000, color="black", lw=0.9)
ax_d.vlines([p[0] for p in HILLS], [p[1] for p in HILLS], 6000, color="black", lw=0.7)
ax_d.set_xlim(150, 290)
ax_d.set_ylim(6000, 0)
ax_d.set_xticks(LON_TICKS)
ax_d.set_xticklabels([str(t) for t in LON_TICKS])
ax_d.set_xticks(list(range(150, 291, 10)), minor=True)
ax_d.set_yticks([0, 2000, 4000, 6000])
ax_d.set_yticklabels(["0", "2000", "4000", "6000"])
ax_d.set_yticks([1000, 3000, 5000], minor=True)
for s in ax_d.spines.values():
    s.set_visible(True)
    s.set_color("#202020")
    s.set_linewidth(0.8)
ax_d.tick_params(which="both", direction="in", top=True, right=True, color="#202020",
                 labelcolor=TXT, labelsize=8.5, width=0.7)
ax_d.tick_params(which="major", length=4)
ax_d.tick_params(which="minor", length=2.5)
ax_d.tick_params(axis="x", which="major", pad=8)
ax_d.tick_params(axis="y", which="major", pad=2.5)
ax_d.set_xlabel("Longitude", fontsize=13, color="#333333", labelpad=3)
for name, lon, dep, rot, align in FEATURES:
    if rot == 90:
        ax_d.text(lon, dep, name, rotation=90, color="white", fontsize=6, ha="center",
                  va="bottom", multialignment=align, linespacing=1.0)
    else:
        ax_d.text(lon, dep, name, color="white", fontsize=6.3, ha="center", va="center",
                  multialignment=align, linespacing=1.0)

fig.savefig("out.png", dpi=100, facecolor="white")
